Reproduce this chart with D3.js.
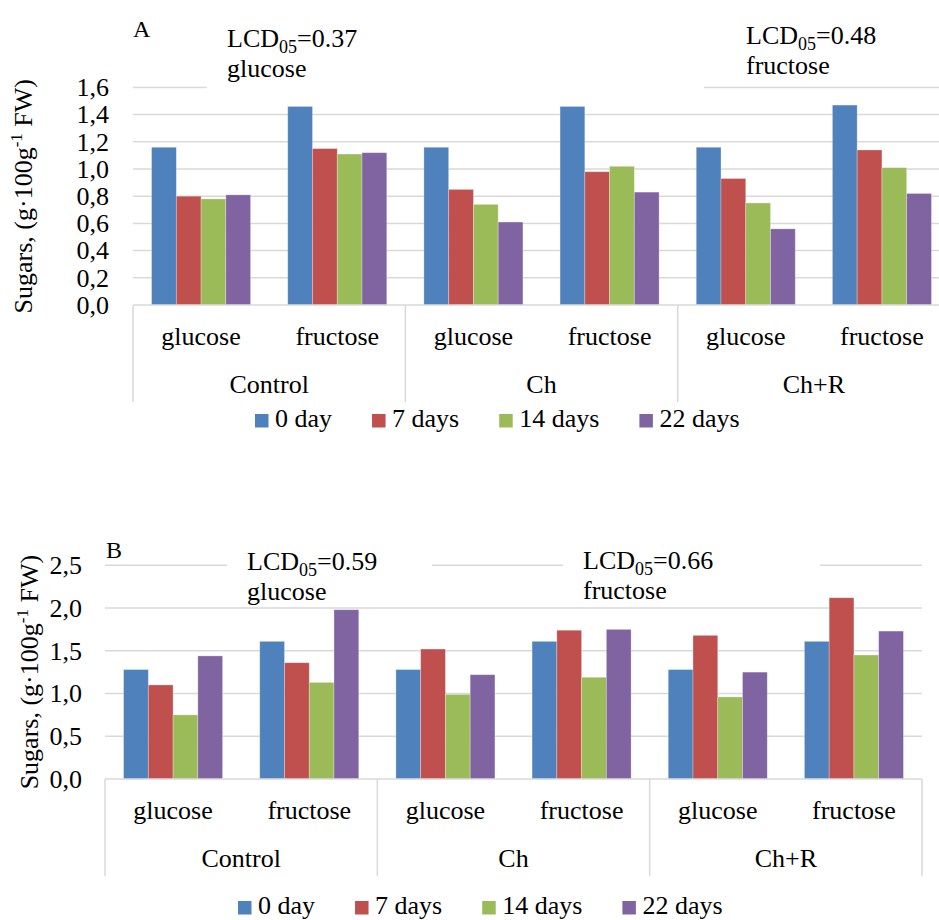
<!DOCTYPE html>
<html>
<head>
<meta charset="utf-8">
<script src="https://cdnjs.cloudflare.com/ajax/libs/d3/7.8.5/d3.min.js"></script>
<style>
  body { margin: 0; background: #fff; }
</style>
</head>
<body>
<div id="plot"></div>
<script>
// categories
var groups = ["Control", "Ch", "Ch+R"];
var sugars = ["glucose", "fructose"];
var periods = ["0 day", "7 days", "14 days", "22 days"];
var colors = ["#4F81BD", "#C0504D", "#9BBB59", "#8064A2"];

// values in order Control-glu, Control-fru, Ch-glu, Ch-fru, Ch+R-glu, Ch+R-fru
var a0  = [1.16, 1.46, 1.16, 1.46, 1.16, 1.47];
var a7  = [0.80, 1.15, 0.85, 0.98, 0.93, 1.14];
var a14 = [0.78, 1.11, 0.74, 1.02, 0.75, 1.01];
var a22 = [0.81, 1.12, 0.61, 0.83, 0.56, 0.82];

var b0  = [1.28, 1.61, 1.28, 1.61, 1.28, 1.61];
var b7  = [1.10, 1.36, 1.52, 1.74, 1.68, 2.12];
var b14 = [0.75, 1.13, 0.99, 1.19, 0.96, 1.45];
var b22 = [1.44, 1.98, 1.22, 1.75, 1.25, 1.73];

var ticksA = [0, 0.2, 0.4, 0.6, 0.8, 1.0, 1.2, 1.4, 1.6];
var ticksB = [0, 0.5, 1.0, 1.5, 2.0, 2.5];

var lcdA = [["0.37", "glucose"], ["0.48", "fructose"]];
var lcdB = [["0.59", "glucose"], ["0.66", "fructose"]];

var svg = d3.select("#plot").append("svg")
    .attr("width", 939)
    .attr("height", 920)
    .attr("font-family", "'Liberation Serif', 'Times New Roman', Tinos, 'DejaVu Serif', serif")
    .style("font-family", "'Liberation Serif', 'Times New Roman', Tinos, 'DejaVu Serif', serif");

var grey = "#d9d9d9";
var fmt = function (v) { return d3.format(".1f")(v).replace(".", ","); };

function panel(cfg) {
    var g = svg.append("g");
    var series = cfg.series;

    var x0 = d3.scaleBand()
        .domain(d3.range(groups.length * sugars.length))
        .range([cfg.left, cfg.right])
        .paddingInner(0).paddingOuter(0);
    var x1 = d3.scaleBand()
        .domain(periods)
        .range([0, x0.bandwidth()])
        .paddingInner(0).paddingOuter(0.75);
    var y = d3.scaleLinear()
        .domain([0, cfg.max])
        .range([cfg.y0, cfg.y0 - cfg.pxPerUnit * cfg.max]);

    // gridlines
    g.selectAll(".grid").data(cfg.ticks.slice(1)).enter().append("line")
        .attr("x1", cfg.left).attr("x2", cfg.right)
        .attr("y1", function (d) { return y(d); })
        .attr("y2", function (d) { return y(d); })
        .attr("stroke", grey).attr("stroke-width", 1.5);

    // tick labels
    g.selectAll(".tick").data(cfg.ticks).enter().append("text")
        .attr("x", cfg.tickX)
        .attr("y", function (d) { return y(d); })
        .attr("dy", "0.34em")
        .attr("text-anchor", "end")
        .attr("font-size", 26)
        .text(fmt);

    // bars
    series.forEach(function (vals, si) {
        g.selectAll(".bar" + si).data(vals).enter().append("rect")
            .attr("x", function (d, i) { return x0(i) + x1(periods[si]); })
            .attr("width", x1.bandwidth())
            .attr("y", function (d) { return y(d); })
            .attr("height", function (d) { return y(0) - y(d); })
            .attr("fill", colors[si])
            .attr("stroke", "rgba(255,255,255,0.35)")
            .attr("stroke-width", 0.8);
    });

    // text boxes with white fill that hide the top gridline
    cfg.boxes.forEach(function (b, i) {
        g.append("rect")
            .attr("x", b[0]).attr("y", b[1])
            .attr("width", b[2] - b[0]).attr("height", b[3] - b[1])
            .attr("fill", "#fff");
        var lab = g.append("text")
            .attr("x", cfg.lcd[i][0]).attr("y", cfg.lcd[i][1])
            .attr("font-size", 26);
        lab.append("tspan").text("LCD");
        lab.append("tspan").attr("font-size", 18).attr("dy", 6).text("05");
        lab.append("tspan").attr("dy", -6).text("=" + cfg.labels[i][0]);
        g.append("text")
            .attr("x", cfg.lcd[i][0]).attr("y", cfg.lcd[i][1] + 30)
            .attr("font-size", 26)
            .text(cfg.labels[i][1]);
    });

    // x axis line
    g.append("line")
        .attr("x1", cfg.left).attr("x2", cfg.right)
        .attr("y1", cfg.y0).attr("y2", cfg.y0)
        .attr("stroke", grey).attr("stroke-width", 1.5);

    // group dividers
    var gw = (cfg.right - cfg.left) / groups.length;
    d3.range(groups.length + 1).forEach(function (k) {
        g.append("line")
            .attr("x1", cfg.left + k * gw).attr("x2", cfg.left + k * gw)
            .attr("y1", cfg.y0).attr("y2", cfg.y0 + 97)
            .attr("stroke", grey).attr("stroke-width", 1.5);
    });

    // sub category labels
    g.selectAll(".sub").data(d3.range(groups.length * sugars.length)).enter().append("text")
        .attr("x", function (i) { return x0(i) + x0.bandwidth() / 2; })
        .attr("y", cfg.y0 + 40)
        .attr("text-anchor", "middle")
        .attr("font-size", 26)
        .text(function (i) { return sugars[i % sugars.length]; });

    // category labels
    g.selectAll(".cat").data(groups).enter().append("text")
        .attr("x", function (d, k) { return cfg.left + (k + 0.5) * gw; })
        .attr("y", cfg.y0 + 88)
        .attr("text-anchor", "middle")
        .attr("font-size", 26)
        .text(function (d) { return d; });

    // y title
    var yt = g.append("text")
        .attr("transform", "translate(" + cfg.titleX + "," + (cfg.y0 + y(cfg.max)) / 2 + ") rotate(-90)")
        .attr("text-anchor", "middle")
        .attr("font-size", 26);
    yt.append("tspan").text("Sugars, (g\u00b7100g");
    yt.append("tspan").attr("font-size", 17).attr("dy", -10).text("-1");
    yt.append("tspan").attr("dy", 10).text(" FW)");

    // panel letter
    g.append("text")
        .attr("x", cfg.letter[0]).attr("y", cfg.letter[1])
        .attr("font-size", 24)
        .text(cfg.letter[2]);

    // legend
    var lx = cfg.legend[0];
    periods.forEach(function (p, i) {
        g.append("rect")
            .attr("x", lx).attr("y", cfg.legend[1] - 13)
            .attr("width", 13.5).attr("height", 13.5)
            .attr("fill", colors[i]);
        var t = g.append("text")
            .attr("x", lx + 20).attr("y", cfg.legend[1])
            .attr("font-size", 26)
            .text(p);
        lx += 20 + t.node().getComputedTextLength() + 40;
    });
}

panel({
    series: [a0, a7, a14, a22],
    ticks: ticksA, max: 1.6, pxPerUnit: 136,
    left: 133, right: 950, y0: 305,
    tickX: 109, titleX: 32,
    boxes: [[207, 15, 455, 100], [455, 15, 704, 100]],
    lcd: [[227, 47], [746, 44]],
    labels: lcdA,
    letter: [133, 37, "A"],
    legend: [255, 427]
});

panel({
    series: [b0, b7, b14, b22],
    ticks: ticksB, max: 2.5, pxPerUnit: 85.5,
    left: 105, right: 922, y0: 779,
    tickX: 82, titleX: 38,
    boxes: [[227, 545, 432, 605], [563, 545, 820, 605]],
    lcd: [[247, 570], [583, 569]],
    labels: lcdB,
    letter: [106, 558, "B"],
    legend: [238, 914]
});
</script>
</body>
</html>
